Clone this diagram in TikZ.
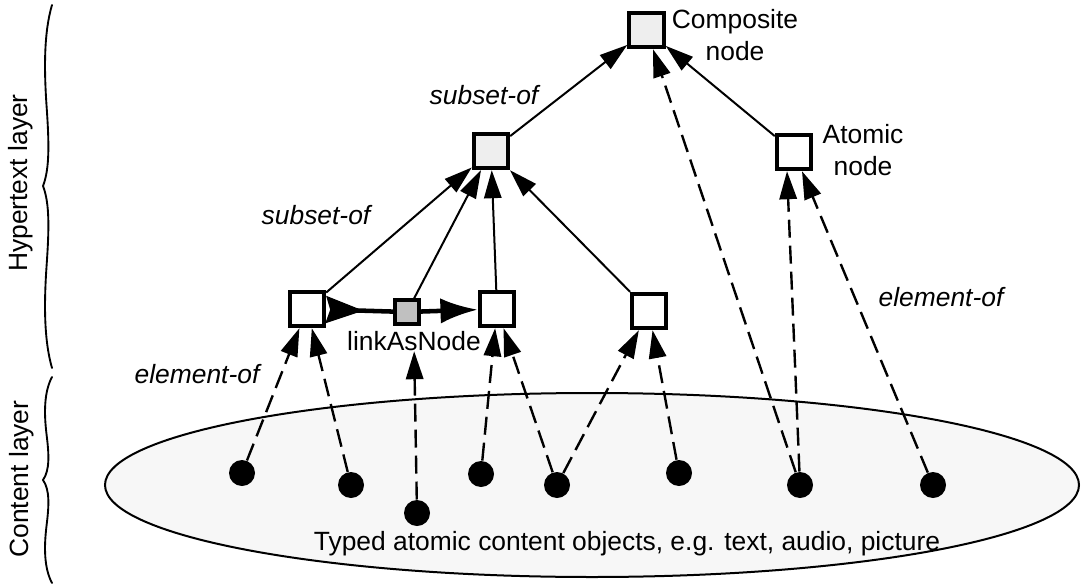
\documentclass[tikz,border=0pt]{standalone}
\usepackage{fontspec}
\setmainfont{Liberation Sans}
\usetikzlibrary{arrows.meta}

\definecolor{compgray}{HTML}{EEEEEE}
\definecolor{linkgray}{HTML}{C0C0C0}
\definecolor{contentgray}{HTML}{F7F7F7}

\tikzset{every picture/.style={line width=0.75pt}}
\tikzset{
  hnode/.style={draw, line width=2.8pt, minimum size=26pt, inner sep=0pt, fill=white},
  cnode/.style={hnode, fill=compgray},
  lnode/.style={draw, line width=2.5pt, minimum size=18pt, inner sep=0pt, fill=linkgray},
  obj/.style={circle, fill=black, minimum size=19.5pt, inner sep=0pt},
  subof/.style={line width=1.5pt, -{Triangle[length=21pt,width=13pt]}},
  elemof/.style={line width=1.8pt, dash pattern=on 13.5pt off 6pt, -{Triangle[length=21pt,width=13pt]}},
  linkof/.style={line width=3.4pt},
  lbl/.style={inner sep=0.75pt, font=\fontsize{19.8}{23.5}\selectfont},
  layerbrace/.style={line width=1.4pt, line cap=round},
}

\begin{document}
\begin{tikzpicture}[x=0.75pt,y=0.75pt,yscale=-1,xscale=1]
    \useasboundingbox (0,0) rectangle (1081,585);

    %Shape: Ellipse [content layer]
    \draw [line width=1.5pt, fill=contentgray] (592,485) ellipse (487 and 92);
    %Shape: Brace [hypertext layer]
    \draw [layerbrace] (52,5) .. controls (44,32) and (44,68) .. (46.5,105) .. controls (49,141) and (50,168) .. (43,186) .. controls (50,204) and (49,231) .. (46.5,267) .. controls (44,304) and (44,340) .. (52,368);
    %Shape: Brace [content layer]
    \draw [layerbrace] (52,377) .. controls (44,392) and (44,413) .. (46.5,434) .. controls (49,454) and (50,470) .. (43,480) .. controls (50,490) and (49,506) .. (46.5,526) .. controls (44,547) and (44,568) .. (52,583);

    % Hypertext nodes
    \node [cnode] (comp) at (646.5,30) {};
    \node [cnode] (mid) at (491,151) {};
    \node [hnode] (at) at (794,152) {};
    \node [hnode] (b1) at (307,309) {};
    \node [lnode] (lk) at (407,312) {};
    \node [hnode] (b3) at (497,309) {};
    \node [hnode] (b4) at (649,311) {};

    % Content objects
    \node [obj] (d1) at (242,473) {};
    \node [obj] (d2) at (351,485) {};
    \node [obj] (d3) at (417,513) {};
    \node [obj] (d4) at (481,474) {};
    \node [obj] (d5) at (557,485) {};
    \node [obj] (d6) at (679,473) {};
    \node [obj] (d7) at (800,485) {};
    \node [obj] (d8) at (933,485) {};

    % Text Node
    \node [lbl, align=center] (compl) at (735,35) {Composite\\node};
    % Text Node
    \node [lbl, align=center] (atl) at (863,150) {Atomic\\node};
    % Text Node
    \node [lbl, inner sep=0pt] (lkl) at (414,341) {linkAsNode};
    % Text Node
    \node [lbl] (sub1) at (484,95) {\itshape subset-of};
    % Text Node
    \node [lbl] (sub2) at (316,215) {\itshape subset-of};
    % Text Node
    \node [lbl] (elem1) at (197,374) {\itshape element-of};
    % Text Node
    \node [lbl] (elem2) at (941,297) {\itshape element-of};
    % Text Node
    \node [lbl] (objl) at (627,544) {Typed atomic content objects, e.g. text, audio, picture};
    % Text Node
    \node [lbl, rotate=90] (hyl) at (21,183) {Hypertext layer};
    % Text Node
    \node [lbl, rotate=90] (col) at (22,479) {Content layer};

    %Straight Lines [subset-of]
    \draw [subof] (mid) -- (comp);
    \draw [subof] (at) -- (comp);
    \draw [subof] (b1) -- (mid);
    \draw [subof] (lk) -- (mid);
    \draw [subof] (b3) -- (mid);
    \draw [subof] (b4) -- (mid);

    %Straight Lines [link]
    \draw [linkof, {Stealth[reversed,length=28pt,width=20pt,inset=3pt]}-] (b1) -- (lk);
    \draw [linkof, -{Latex[length=28pt,width=19pt]}] (lk) -- (b3);

    %Straight Lines [element-of]
    \draw [elemof] (d1) -- (b1);
    \draw [elemof] (d2) -- (b1);
    \draw [elemof] (d3) -- (lkl);
    \draw [elemof] (d4) -- (b3);
    \draw [elemof] (d5) -- (b3);
    \draw [elemof] (d5) -- (b4);
    \draw [elemof] (d6) -- (b4);
    \draw [elemof] (d7) -- (comp);
    \draw [elemof] (d7) -- (at.-110);
    \draw [elemof] (d8) -- (at);

\end{tikzpicture}
\end{document}
